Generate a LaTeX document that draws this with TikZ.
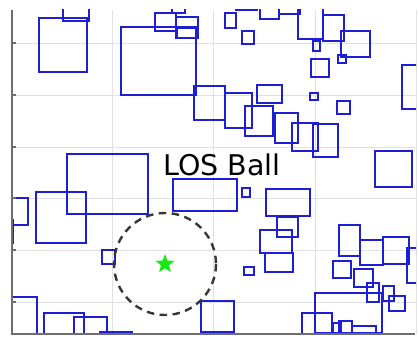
\documentclass[tikz,border=0pt]{standalone}
\usepackage{fontspec}
\newfontfamily\dejavu{DejaVu Sans}
\usetikzlibrary{shapes.geometric}
\definecolor{boxblue}{RGB}{30,30,215}
\definecolor{gridgray}{RGB}{225,225,225}
\definecolor{axisgray}{RGB}{110,110,110}
\definecolor{ballgray}{RGB}{55,55,55}
\definecolor{stargreen}{RGB}{20,235,20}
\tikzset{
  obst/.style={draw=boxblue, line width=1.4pt},
  gridline/.style={draw=gridgray, line width=0.9pt},
  axisline/.style={draw=axisgray, line width=1.1pt},
  ball/.style={draw=ballgray, line width=2.4pt, dash pattern=on 7.5pt off 5.5pt},
}
\begin{document}
\begin{tikzpicture}[x=1pt,y=-1pt]
\useasboundingbox (0,0) rectangle (419,339);
\fill[white] (0,0) rectangle (419,339);
% grid
\foreach \yy in {43,95,147,198,250,302} \draw[gridline] (12,\yy) -- (416,\yy);
\foreach \xx in {112,213,315,416} \draw[gridline] (\xx,10) -- (\xx,334);
% obstacles
\begin{scope}
\clip (12,10) rectangle (416,334);
\foreach \a/\b/\c/\d in {
 39/18/87/72, 63/4/89/21, 121/27/196/95, 155/13/176/31, 176/17/198/38, 177/28/197/38,
 172/4/185/13, 194/86/225/120, 225/13/236/28, 242/31/254/44, 236/4/257/10, 260/4/279/19,
 279/4/300/14, 298/4/323/39, 323/15/344/41, 313/41/320/51, 341/31/370/57, 338/55/346/63,
 311/59/329/77, 310/93/318/100, 337/101/350/114, 402/65/420/109, 257/85/282/103,
 225/93/252/128, 245/106/273/136, 275/113/298/143, 292/123/318/151, 313/124/338/157,
 375/151/412/187,
 67/154/148/214, 36/192/86/243, 4/198/28/225, 4/220/13/243, 102/250/115/264,
 173/179/237/211, 242/188/250/197, 266/189/310/216, 277/217/298/237, 260/230/292/253,
 265/253/293/272, 244/267/254/275,
 4/297/37/340, 44/313/84/340, 74/317/107/340, 100/332/132/340, 201/301/234/332,
 302/313/332/340, 315/293/382/333, 339/225/360/256, 360/240/383/265, 383/237/409/264,
 407/248/420/283, 333/261/351/278, 354/269/373/287, 367/283/379/302, 383/286/394/301,
 389/296/405/311, 333/323/341/340, 339/321/352/340, 352/326/376/340}
 \draw[obst] (\a,\b) rectangle (\c,\d);
\end{scope}
% axes
\draw[axisline] (12,10) -- (12,334) -- (415,334);
\foreach \yy in {43,95,147,198,250,302} \draw[axisline] (12,\yy) -- (16,\yy);
% LOS ball
\node[star, star points=5, star point ratio=2.4, fill=stargreen, minimum size=20pt, inner sep=0pt] (goal) at (165,264) {};
\draw[ball] (goal.center) circle[radius=51];
\node[anchor=base west, inner sep=0pt, font=\dejavu\fontsize{28.5}{30}\selectfont] (label) at (163,175) {LOS Ball};
\end{tikzpicture}
\end{document}
